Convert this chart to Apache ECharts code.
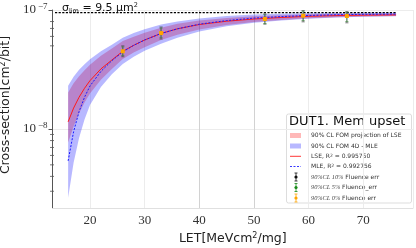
<!DOCTYPE html>
<html><head><meta charset="utf-8">
<script src="https://cdn.jsdelivr.net/npm/echarts@6/dist/echarts.min.js"></script>
<style>html,body{margin:0;padding:0;background:#fff}#c{width:416px;height:248px}</style>
</head><body><div id="c"></div>
<script>
// ---- data ----
const fitLET  = [16, 17, 18, 19, 20, 22, 24, 26, 28, 30, 33, 36, 40, 45, 50, 55, 60, 65, 70, 76];
const lseFit  = [1.15e-8, 1.50e-8, 1.85e-8, 2.2e-8, 2.55e-8, 3.2e-8, 3.8e-8, 4.5e-8, 5.05e-8, 5.6e-8, 6.35e-8, 6.95e-8, 7.55e-8, 8.05e-8, 8.4e-8, 8.65e-8, 8.85e-8, 8.97e-8, 9.05e-8, 9.1e-8];
const mleFit  = [5.4e-9, 9.5e-9, 1.4e-8, 1.85e-8, 2.3e-8, 3.05e-8, 3.75e-8, 4.45e-8, 5.05e-8, 5.6e-8, 6.35e-8, 6.95e-8, 7.6e-8, 8.15e-8, 8.55e-8, 8.8e-8, 9.0e-8, 9.12e-8, 9.2e-8, 9.25e-8];
const lseLow  = [7.7e-9, 1.05e-8, 1.35e-8, 1.67e-8, 1.99e-8, 2.59e-8, 3.19e-8, 3.87e-8, 4.39e-8, 4.87e-8, 5.59e-8, 6.19e-8, 6.87e-8, 7.49e-8, 7.94e-8, 8.26e-8, 8.54e-8, 8.70e-8, 8.82e-8, 8.92e-8];
const lseHigh = [2.03e-8, 2.43e-8, 2.78e-8, 3.12e-8, 3.47e-8, 4.13e-8, 4.75e-8, 5.49e-8, 5.96e-8, 6.44e-8, 7.11e-8, 7.65e-8, 8.15e-8, 8.57e-8, 8.86e-8, 9.04e-8, 9.2e-8, 9.28e-8, 9.32e-8, 9.33e-8];
const mleLow  = [2.65e-9, 5.2e-9, 8.4e-9, 1.2e-8, 1.59e-8, 2.26e-8, 2.89e-8, 3.52e-8, 4.04e-8, 4.54e-8, 5.21e-8, 5.84e-8, 6.61e-8, 7.29e-8, 7.82e-8, 8.18e-8, 8.46e-8, 8.66e-8, 8.79e-8, 8.88e-8];
const mleHigh = [2.31e-8, 2.75e-8, 3.15e-8, 3.5e-8, 3.85e-8, 4.5e-8, 5.1e-8, 5.85e-8, 6.4e-8, 6.9e-8, 7.55e-8, 8.0e-8, 8.5e-8, 8.9e-8, 9.15e-8, 9.3e-8, 9.4e-8, 9.45e-8, 9.48e-8, 9.5e-8];

const pointLET   = [26, 33, 52, 59, 67];
const pointSigma = [4.5e-8, 6.4e-8, 8.4e-8, 8.95e-8, 8.9e-8];
const err10Low   = [4.05e-8, 5.7e-8, 7.6e-8, 7.95e-8, 7.8e-8];
const err10High  = [5.0e-8, 7.2e-8, 9.3e-8, 9.9e-8, 9.7e-8];
const err5Low    = [4.15e-8, 5.85e-8, 7.7e-8, 8.15e-8, 8.0e-8];
const err5High   = [4.9e-8, 7.05e-8, 9.15e-8, 9.75e-8, 9.55e-8];

const sigmaLim    = 9.5e-8;
const sigmaLimLET = [13.6, 76];
const minorTicks  = [3e-9, 4e-9, 5e-9, 6e-9, 7e-9, 8e-9, 9e-9, 5e-8, 6e-8, 7e-8, 8e-8];

const legendItems = [
  {kind:'patch', color:'rgba(255,0,0,0.28)', text:'90% CL FOM projection of LSE'},
  {kind:'patch', color:'rgba(0,0,255,0.28)', text:'90% CL FOM 4D - MLE'},
  {kind:'line', color:'#ff2020', dash:null, text:'LSE, R{sup|2} = 0.995760'},
  {kind:'line', color:'#2020ff', dash:[2,1.5], text:'MLE, R{sup|2} = 0.992756'},
  {kind:'err', color:'#111', text:'{m|90%CL 10%} Fluence err'},
  {kind:'err', color:'#1a8a1a', text:'{m|90%CL 5%} Fluence_err'},
  {kind:'err', color:'#ffa500', text:'{m|90%CL 0%} Fluence err'}
];

const X_MIN = 13.14, X_MAX = 79.1, Y_MIN = 2.17e-9, Y_MAX = 1e-7;
const SANS = '"DejaVu Sans", sans-serif';
const SERIF = '"Liberation Serif", "DejaVu Serif", serif';

function band(name, low, high, color, z){
  return {
    type:'custom', name, z, silent:true, clip:true,
    data:[[fitLET[0], low[0]]],
    encode:{x:0, y:1},
    renderItem:(params, api)=>{
      const pts=[];
      for(let i=0;i<fitLET.length;i++) pts.push(api.coord([fitLET[i], high[i]]));
      for(let i=fitLET.length-1;i>=0;i--) pts.push(api.coord([fitLET[i], low[i]]));
      return {type:'polygon', shape:{points:pts, smooth:0}, style:{fill:color}};
    }
  };
}

function capLines(lo, hi, color, w){
  const cw = 1.6;
  return [
    {type:'line', shape:{x1:lo[0], y1:lo[1], x2:hi[0], y2:hi[1]}, style:{stroke:color, lineWidth:w}},
    {type:'line', shape:{x1:lo[0]-cw, y1:lo[1], x2:lo[0]+cw, y2:lo[1]}, style:{stroke:color, lineWidth:w}},
    {type:'line', shape:{x1:hi[0]-cw, y1:hi[1], x2:hi[0]+cw, y2:hi[1]}, style:{stroke:color, lineWidth:w}}
  ];
}

// legend graphic
const LX = 286.5, LY = 114, LW = 125, LH = 89;
const rowY = [135.5, 146, 156.3, 166.5, 177, 187.5, 198];
const legendChildren = [
  {type:'rect', shape:{x:LX, y:LY, width:LW, height:LH, r:2}, style:{fill:'rgba(255,255,255,0.85)', stroke:'#d4d4d4', lineWidth:0.8}},
  {type:'text', x:289, y:121.5, style:{text:'DUT1. Mem upset', font:'13px '+SANS, fill:'#111', verticalAlign:'middle'}}
];
legendItems.forEach((it, i)=>{
  const y = rowY[i];
  if(it.kind==='patch'){
    legendChildren.push({type:'rect', shape:{x:290, y:y-2.5, width:11, height:5}, style:{fill:it.color}});
  } else if(it.kind==='line'){
    legendChildren.push({type:'line', shape:{x1:290, y1:y, x2:301, y2:y}, style:{stroke:it.color, lineWidth:0.9, lineDash:it.dash}});
  } else {
    const cx = 296;
    legendChildren.push({type:'line', shape:{x1:cx, y1:y-4, x2:cx, y2:y+4}, style:{stroke:it.color, lineWidth:0.8}});
    legendChildren.push({type:'line', shape:{x1:cx-1.5, y1:y-4, x2:cx+1.5, y2:y-4}, style:{stroke:it.color, lineWidth:0.8}});
    legendChildren.push({type:'line', shape:{x1:cx-1.5, y1:y+4, x2:cx+1.5, y2:y+4}, style:{stroke:it.color, lineWidth:0.8}});
    legendChildren.push({type:'circle', shape:{cx:cx, cy:y, r:1.6}, style:{fill:it.color}});
  }
  legendChildren.push({type:'text', x:311, y:y, style:{
    text:it.text, font:'6px '+SANS, fill:'#333', verticalAlign:'middle',
    rich:{sup:{fontSize:4.5, verticalAlign:'top', lineHeight:6, fill:'#333', fontFamily:SANS},
          m:{fontSize:6.3, fontStyle:'italic', fontFamily:SERIF, fill:'#444'}}
  }});
});

const chart = echarts.init(document.getElementById('c'), null, {renderer:'canvas'});
chart.setOption({
  animation:false,
  backgroundColor:'#fff',
  grid:{left:52.5, right:3, top:10, bottom:40, containLabel:false, outerBoundsMode:'none'},
  xAxis:{
    type:'value', min:X_MIN, max:X_MAX,
    axisLine:{show:true, lineStyle:{color:'#e0e0e0', width:1}},
    axisTick:{show:false},
    splitLine:{show:true, lineStyle:{color:['#ececec','#ececec','#ececec','#d2d2d2','#d2d2d2','#ececec','#ececec','#ececec'], width:1}},
    axisLabel:{showMinLabel:false, showMaxLabel:false, margin:6, color:'#333', fontFamily:SERIF, fontSize:13},
    name:'LET[MeVcm{sup|2}/mg]', nameLocation:'middle', nameGap:21,
    nameTextStyle:{fontFamily:SANS, fontSize:12.5, color:'#222',
      rich:{sup:{fontSize:8, verticalAlign:'top', lineHeight:10, fontFamily:SANS, color:'#222'}}}
  },
  yAxis:{
    type:'log', logBase:10, min:Y_MIN, max:Y_MAX,
    axisLine:{show:true, lineStyle:{color:'#555', width:1}},
    axisTick:{show:true, length:4, lineStyle:{color:'#555'}},
    splitLine:{show:true, lineStyle:{color:'#ececec', width:1}},
    axisLabel:{showMinLabel:false, margin:5, color:'#333',
      formatter:(v)=>{const e=Math.round(Math.log10(v)); return '{b|10}{s|−'+(-e)+'}';},
      rich:{b:{fontFamily:SERIF, fontSize:13, lineHeight:16, color:'#333'},
            s:{fontFamily:SERIF, fontSize:9, lineHeight:9, verticalAlign:'top', color:'#333', padding:[0,0,0,2]}}},
    name:'Cross-section[cm{sup|2}/bit]', nameLocation:'middle', nameGap:32, nameRotate:90,
    nameTextStyle:{fontFamily:SANS, fontSize:12.5, color:'#222', padding:[0,0,0,8],
      rich:{sup:{fontSize:8, verticalAlign:'top', lineHeight:10, fontFamily:SANS, color:'#222'}}}
  },
  series:[
    band('LSE band', lseLow, lseHigh, 'rgba(255,0,0,0.28)', 1),
    band('MLE band', mleLow, mleHigh, 'rgba(0,0,255,0.28)', 2),
    {type:'line', name:'sigma lim', z:3, data:sigmaLimLET.map(x=>[x, sigmaLim]), symbol:'none', silent:true,
     lineStyle:{color:'#000', width:1.3, type:[2.2,1.4]}},
    {type:'line', name:'LSE', z:4, data:fitLET.map((x,i)=>[x, lseFit[i]]), symbol:'none', silent:true,
     lineStyle:{color:'#ff1a1a', width:1}},
    {type:'line', name:'MLE', z:5, data:fitLET.map((x,i)=>[x, mleFit[i]]), symbol:'none', silent:true,
     lineStyle:{color:'#1a1aff', width:1, type:[2,1.5]}},
    {type:'custom', name:'points', z:6, silent:true,
     data:pointLET.map((x,i)=>[x, pointSigma[i], err10Low[i], err10High[i], err5Low[i], err5High[i]]),
     encode:{x:0, y:1},
     renderItem:(params, api)=>{
       const x = api.value(0);
       const c = api.coord([x, api.value(1)]);
       const l10 = api.coord([x, api.value(2)]), h10 = api.coord([x, api.value(3)]);
       const l5 = api.coord([x, api.value(4)]), h5 = api.coord([x, api.value(5)]);
       return {type:'group', children:[
         ...capLines(l10, h10, 'rgba(70,70,70,0.8)', 0.8),
         ...capLines(l5, h5, 'rgba(60,130,60,0.8)', 0.8),
         {type:'rect', shape:{x:c[0]-2, y:c[1]-2, width:4, height:4}, style:{fill:'#ffa500'}}
       ]};
     }},
    {type:'custom', name:'minor ticks', z:7, silent:true, clip:false,
     data:minorTicks.map(v=>[X_MIN, v]), encode:{x:0, y:1},
     renderItem:(params, api)=>{
       const p = api.coord([api.value(0), api.value(1)]);
       return {type:'line', shape:{x1:p[0]-2.5, y1:p[1], x2:p[0]+1.5, y2:p[1]}, style:{stroke:'#555', lineWidth:0.8}};
     }}
  ],
  graphic:[
    {type:'text', x:62, y:8, z:10, style:{text:'σ{sub|lim} = 9.5 µm{sup|2}', font:'11px '+SANS, fill:'#111', verticalAlign:'middle',
      rich:{sub:{fontSize:6.5, verticalAlign:'bottom', lineHeight:13, fontFamily:SANS, fill:'#111'},
            sup:{fontSize:6.5, verticalAlign:'top', lineHeight:13, fontFamily:SANS, fill:'#111'}}}},
    {type:'group', z:20, children:legendChildren}
  ]
});
</script></body></html>
